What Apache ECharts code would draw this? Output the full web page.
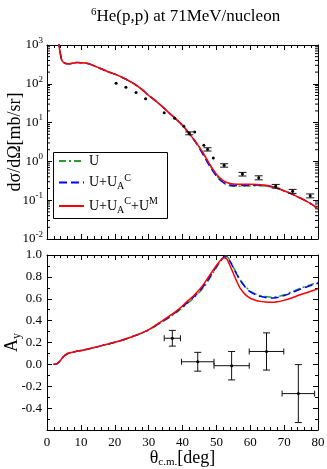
<!DOCTYPE html>
<html>
<head>
<meta charset="utf-8">
<script src="https://cdn.jsdelivr.net/npm/echarts@6/dist/echarts.min.js"></script>
<style>
  html, body { margin: 0; padding: 0; background: #fff; }
  #chart { width: 327px; height: 469px; }
</style>
</head>
<body>
<div id="chart"></div>
<script>
const FONT = "'Liberation Serif', 'DejaVu Serif', serif";
const GREEN = "#2f9a2f";
const BLUE = "#0000ff";
const RED = "#ff0000";

// cross section, theory curves
const xsAngles = [3.3, 3.6, 4.0, 4.4, 5.0, 5.8, 6.5, 7.5, 8.8, 10, 11.7, 13.5, 15.6, 18, 20.6, 23, 25.5, 28, 30, 32, 34, 36, 38, 40, 42, 44, 46, 48, 50, 52, 54, 56, 58, 60, 62, 64, 66, 68, 70, 72, 74, 76, 78, 80];
const xsU = [1400, 900, 560, 400, 350, 330, 328, 340, 352, 350, 340, 300, 252, 205, 170, 135, 103, 72, 50, 37, 26, 18, 12.5, 8.5, 5.2, 3.1, 1.65, 0.82, 0.44, 0.28, 0.235, 0.228, 0.23, 0.233, 0.236, 0.233, 0.222, 0.2, 0.173, 0.148, 0.122, 0.1, 0.08, 0.06];
const xsUAC = [1400, 900, 560, 400, 350, 330, 328, 340, 352, 350, 340, 300, 252, 205, 170, 135, 103, 72, 50, 37, 26, 18, 12.5, 8.5, 5.2, 3.0, 1.55, 0.76, 0.42, 0.29, 0.245, 0.238, 0.24, 0.243, 0.245, 0.24, 0.226, 0.202, 0.174, 0.148, 0.122, 0.1, 0.08, 0.06];
const xsUACUM = [1400, 900, 560, 400, 350, 330, 328, 340, 352, 350, 340, 300, 252, 205, 170, 135, 103, 72, 50, 37, 26, 18, 12.5, 8.5, 5.2, 3.1, 1.7, 0.85, 0.47, 0.32, 0.27, 0.258, 0.258, 0.258, 0.255, 0.245, 0.23, 0.205, 0.175, 0.148, 0.122, 0.1, 0.08, 0.06];

// cross section, measured
const xsDataAngles = [20.4, 23.3, 26.3, 29.1, 34.6, 37.7, 40.4, 42.0, 43.6, 46.3, 47.4, 49.1, 52.3, 57.7, 62.5, 67.5, 72.5, 77.7];
const xsDataValues = [103, 81, 60, 41, 18, 12.9, 8.0, 5.3, 5.7, 2.6, 2.05, 1.22, 0.79, 0.47, 0.38, 0.23, 0.17, 0.13];
const xsDataErrors = [0, 0, 0, 0, 0, 0, 0, 0.45, 0, 0, 0.2, 0, 0.08, 0.05, 0.045, 0.025, 0.02, 0.015];

// analyzing power, theory curves
const ayAngles = [1.9, 2.9, 3.8, 4.5, 5.3, 6.0, 6.8, 8.5, 10.7, 13, 15.6, 18, 20.6, 23, 25.5, 28, 30.4, 33.4, 36.3, 39.3, 41, 43.2, 45, 46.1, 47.5, 49.1, 50.5, 51.6, 52.3, 53, 53.5, 54.2, 55, 56, 57, 58.5, 59.9, 61.5, 62.9, 64.5, 66.3, 68, 69.8, 72, 74.7, 77, 80];
const ayU = [0, 0.005, 0.03, 0.058, 0.082, 0.097, 0.106, 0.118, 0.13, 0.147, 0.167, 0.186, 0.206, 0.23, 0.257, 0.286, 0.32, 0.378, 0.432, 0.5, 0.545, 0.605, 0.66, 0.7, 0.76, 0.84, 0.91, 0.96, 0.985, 0.988, 0.975, 0.94, 0.89, 0.83, 0.775, 0.715, 0.672, 0.645, 0.63, 0.62, 0.615, 0.62, 0.635, 0.66, 0.695, 0.72, 0.75];
const ayUAC = [0, 0.005, 0.03, 0.058, 0.082, 0.097, 0.106, 0.118, 0.13, 0.147, 0.167, 0.186, 0.206, 0.23, 0.257, 0.287, 0.322, 0.381, 0.438, 0.507, 0.553, 0.613, 0.67, 0.71, 0.772, 0.85, 0.917, 0.962, 0.982, 0.982, 0.968, 0.932, 0.884, 0.824, 0.768, 0.708, 0.665, 0.638, 0.622, 0.612, 0.607, 0.612, 0.627, 0.652, 0.687, 0.712, 0.742];
const ayUACUM = [0, 0.005, 0.03, 0.058, 0.082, 0.097, 0.106, 0.118, 0.13, 0.147, 0.167, 0.186, 0.206, 0.23, 0.257, 0.288, 0.324, 0.385, 0.445, 0.515, 0.565, 0.625, 0.685, 0.727, 0.79, 0.864, 0.925, 0.962, 0.976, 0.965, 0.94, 0.89, 0.833, 0.76, 0.697, 0.64, 0.606, 0.587, 0.576, 0.57, 0.567, 0.572, 0.585, 0.605, 0.636, 0.66, 0.69];

// analyzing power, measured
const ayDataAngles = [37.0, 44.5, 54.5, 64.8, 74.2];
const ayDataValues = [0.239, 0.024, -0.012, 0.118, -0.267];
const ayDataAngleErr = [2.4, 4.8, 5.2, 5.1, 4.8];
const ayDataErr = [0.072, 0.086, 0.13, 0.17, 0.265];

const seriesNames = ["U", "U+UAC", "U+UAC+UM"];
const legendLabels = {
  "U": "{n|U}",
  "U+UAC": "{n|U+U}{sub|A}{sup|C}",
  "U+UAC+UM": "{n|U+U}{sub|A}{sup|C}{n|+U}{sup|M}"
};

const xMin = 0, xMax = 80;

const zip = (xs, ys) => xs.map((x, i) => [x, ys[i]]);

// minor ticks of the log axis: 2..9 x 10^n
const logMinorTicks = [];
for (let e = -2; e < 3; e++) {
  for (let m = 2; m <= 9; m++) logMinorTicks.push([xMin, m * Math.pow(10, e)]);
}

const chart = echarts.init(document.getElementById("chart"));

function errorBars(capW, capH) {
  return function (params, api) {
    const x = api.value(0), y = api.value(1), dx = api.value(2), dy = api.value(3);
    const c = api.coord([x, y]);
    const st = { stroke: "#111", lineWidth: 1 };
    const kids = [];
    if (dy > 0) {
      const t = api.coord([x, y + dy]);
      const b = api.coord([x, y - dy]);
      kids.push({ type: "line", shape: { x1: c[0], y1: t[1], x2: c[0], y2: b[1] }, style: st });
      kids.push({ type: "line", shape: { x1: c[0] - capW, y1: t[1], x2: c[0] + capW, y2: t[1] }, style: st });
      kids.push({ type: "line", shape: { x1: c[0] - capW, y1: b[1], x2: c[0] + capW, y2: b[1] }, style: st });
    }
    if (dx > 0) {
      const l = api.coord([x - dx, y]);
      const r = api.coord([x + dx, y]);
      kids.push({ type: "line", shape: { x1: l[0], y1: c[1], x2: r[0], y2: c[1] }, style: st });
      kids.push({ type: "line", shape: { x1: l[0], y1: c[1] - capH, x2: l[0], y2: c[1] + capH }, style: st });
      kids.push({ type: "line", shape: { x1: r[0], y1: c[1] - capH, x2: r[0], y2: c[1] + capH }, style: st });
    }
    kids.push({ type: "circle", shape: { cx: c[0], cy: c[1], r: 1.5 }, style: { fill: "#000" } });
    return { type: "group", children: kids };
  };
}

function logTicks(params, api) {
  const v = api.value(1);
  const l = api.coord([xMin, v]);
  const r = api.coord([xMax, v]);
  const st = { stroke: "#000", lineWidth: 1 };
  return {
    type: "group",
    children: [
      { type: "line", shape: { x1: l[0], y1: l[1], x2: l[0] + 3, y2: l[1] }, style: st },
      { type: "line", shape: { x1: r[0], y1: r[1], x2: r[0] - 3, y2: r[1] }, style: st }
    ]
  };
}

const axisLine = { show: true, onZero: false, lineStyle: { color: "#000", width: 1 } };
const tick = { show: true, inside: true, length: 5, lineStyle: { color: "#000" } };
const minor = { show: true, length: 3, lineStyle: { color: "#000" } };
const labelFont = { fontFamily: FONT, fontSize: 13, color: "#000" };

function xAxisFor(grid, pos, labels) {
  return {
    type: "value", gridIndex: grid, position: pos, min: xMin, max: xMax, interval: 10,
    axisLine: axisLine, axisTick: tick, minorTick: Object.assign({ splitNumber: 5 }, minor),
    splitLine: { show: false },
    axisLabel: Object.assign({ show: labels, margin: 6 }, labelFont)
  };
}

function logAxis(pos, labels) {
  return {
    type: "log", gridIndex: 0, position: pos, min: 0.01, max: 1000, logBase: 10,
    axisLine: axisLine, axisTick: tick, splitLine: { show: false },
    axisLabel: {
      show: labels, margin: 4,
      formatter: v => "{b|10}{e|" + Math.round(Math.log10(v)) + "}",
      rich: {
        b: { fontFamily: FONT, fontSize: 13, color: "#000" },
        e: { fontFamily: FONT, fontSize: 9, color: "#000", padding: [0, 0, 9, 0] }
      }
    }
  };
}

function ayAxis(pos, labels) {
  return {
    type: "value", gridIndex: 1, position: pos, min: -0.6, max: 1.0, interval: 0.2,
    axisLine: axisLine, axisTick: tick, minorTick: Object.assign({ splitNumber: 2 }, minor),
    splitLine: { show: false },
    axisLabel: Object.assign({
      show: labels, margin: 5,
      formatter: v => (v < -0.55 ? "" : v.toFixed(1))
    }, labelFont)
  };
}

function curve(name, data, grid, color, type) {
  return {
    name: name, type: "line", xAxisIndex: grid * 2, yAxisIndex: grid * 2,
    data: data, symbol: "none", smooth: 0.3,
    lineStyle: { color: color, width: 1.5, type: type }, itemStyle: { color: color }
  };
}

chart.setOption({
  animation: false,
  backgroundColor: "#fff",
  title: {
    text: "{s|6}{t|He(p,p) at 71MeV/nucleon}",
    left: 86, top: 2,
    textStyle: {
      fontWeight: "normal",
      rich: {
        s: { fontFamily: FONT, fontSize: 11, fontWeight: "normal", color: "#000", padding: [0, 0, 9, 0] },
        t: { fontFamily: FONT, fontSize: 17, fontWeight: "normal", color: "#000" }
      }
    }
  },
  // legend frame
  graphic: [{
    type: "rect", left: 53, top: 152, z: 3,
    shape: { width: 114, height: 66 },
    style: { fill: "#fff", stroke: "#000", lineWidth: 1 }
  }],
  legend: {
    data: seriesNames,
    orient: "vertical", left: 53, top: 152, z: 5,
    padding: [2, 8, 3, 5], itemGap: 5,
    itemWidth: 25, itemHeight: 14,
    itemStyle: { color: "transparent", borderWidth: 0, opacity: 0 },
    formatter: name => legendLabels[name],
    textStyle: {
      fontFamily: FONT, fontSize: 14, color: "#000",
      rich: {
        n: { fontFamily: FONT, fontSize: 14, color: "#000" },
        sub: { fontFamily: FONT, fontSize: 10, color: "#000", padding: [8, 0, 0, 0] },
        sup: { fontFamily: FONT, fontSize: 10, color: "#000", padding: [0, 0, 9, 0] }
      }
    }
  },
  grid: [
    { left: 47, right: 9, top: 45, height: 194, outerBoundsMode: "none" },
    { left: 47, right: 9, top: 255, height: 175, outerBoundsMode: "none" }
  ],
  xAxis: [
    xAxisFor(0, "bottom", false),
    xAxisFor(0, "top", false),
    Object.assign(xAxisFor(1, "bottom", true), {
      name: "θ{s|c.m.}[deg]", nameLocation: "middle", nameGap: 18, nameMoveOverlap: false,
      nameTextStyle: {
        fontFamily: FONT, fontSize: 18, color: "#000",
        rich: { s: { fontFamily: FONT, fontSize: 11, color: "#000", padding: [9, 0, 0, 0] } }
      }
    }),
    xAxisFor(1, "top", false)
  ],
  yAxis: [
    Object.assign(logAxis("left", true), {
      name: "dσ/dΩ[mb/sr]", nameLocation: "middle", nameGap: 23, nameMoveOverlap: false,
      nameTextStyle: { fontFamily: FONT, fontSize: 18, color: "#000" }
    }),
    logAxis("right", false),
    Object.assign(ayAxis("left", true), {
      name: "A{s|y}", nameLocation: "middle", nameGap: 24, nameMoveOverlap: false,
      nameTextStyle: {
        fontFamily: FONT, fontSize: 18, color: "#000",
        rich: { s: { fontFamily: FONT, fontSize: 12, color: "#000", padding: [9, 0, 0, 0] } }
      }
    }),
    ayAxis("right", false)
  ],
  series: [
    curve("U", zip(xsAngles, xsU), 0, GREEN, [7, 3, 2, 3]),
    curve("U+UAC", zip(xsAngles, xsUAC), 0, BLUE, [8, 4]),
    curve("U+UAC+UM", zip(xsAngles, xsUACUM), 0, RED, "solid"),
    curve("U", zip(ayAngles, ayU), 1, GREEN, [7, 3, 2, 3]),
    curve("U+UAC", zip(ayAngles, ayUAC), 1, BLUE, [8, 4]),
    curve("U+UAC+UM", zip(ayAngles, ayUACUM), 1, RED, "solid"),
    {
      type: "custom", xAxisIndex: 0, yAxisIndex: 0, silent: true, z: 5,
      renderItem: errorBars(4, 3),
      data: xsDataAngles.map((a, i) => [a, xsDataValues[i], 0, xsDataErrors[i]])
    },
    {
      type: "custom", xAxisIndex: 2, yAxisIndex: 2, silent: true, z: 5,
      renderItem: errorBars(3.5, 3),
      data: ayDataAngles.map((a, i) => [a, ayDataValues[i], ayDataAngleErr[i], ayDataErr[i]])
    },
    {
      type: "custom", xAxisIndex: 0, yAxisIndex: 0, silent: true, clip: false,
      renderItem: logTicks, data: logMinorTicks
    }
  ]
});
</script>
</body>
</html>
